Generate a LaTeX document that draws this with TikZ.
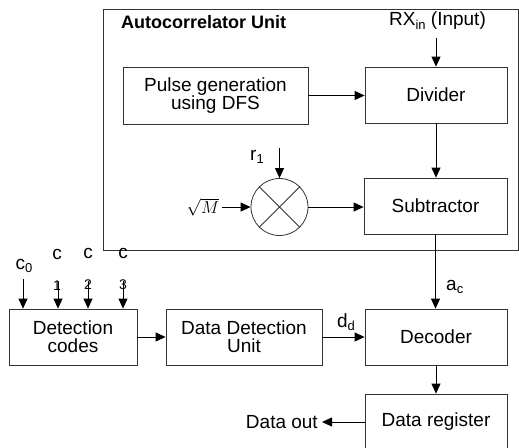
\documentclass[tikz,border=0pt]{standalone}
\usepackage{fontspec}
\setmainfont{Liberation Sans}
\usetikzlibrary{arrows.meta}
\newcommand{\mysub}[1]{\raisebox{-0.35ex}{\fontsize{13}{13}\selectfont #1}}
\begin{document}
\begin{tikzpicture}[x=1pt,y=-1pt,
  box/.style={draw=black!80, line width=0.8pt, rectangle, inner sep=0pt, align=center,
    font=\fontsize{19}{18}\selectfont},
  lbl/.style={inner sep=0pt, font=\fontsize{19}{18}\selectfont},
  dig/.style={inner sep=0pt, font=\fontsize{14}{14}\selectfont},
  arr/.style={-{Triangle[length=10pt,width=9pt]}, line width=0.8pt, draw=black}]
\useasboundingbox (0,0) rectangle (519,447);

% outer unit
\node[draw=black!80, line width=0.8pt, rectangle, inner sep=0pt,
  minimum width=415pt, minimum height=241pt] (outer) at (310.5,129.5) {};
\node[anchor=west, inner sep=0pt, font=\fontsize{18}{18}\selectfont\bfseries] (title) at (121,22) {Autocorrelator Unit};

% blocks
\node[box, minimum width=185pt, minimum height=57pt] (pulse) at (215.5,95.5) {Pulse generation\\using DFS};
\node[box, minimum width=142pt, minimum height=56pt] (div) at (436,95) {Divider};
\node[box, minimum width=143pt, minimum height=56pt] (sub) at (435.5,206) {Subtractor};
\node[draw=black!80, line width=0.8pt, circle, minimum size=57pt, inner sep=0pt] (mul) at (279.5,207) {};
\draw[line width=0.8pt, black!80] (mul.north west) -- (mul.south east) (mul.north east) -- (mul.south west);
\node[box, minimum width=142pt, minimum height=56pt] (dec) at (436,337) {Decoder};
\node[box, minimum width=142pt, minimum height=56pt] (dreg) at (436,422) {Data register};
\node[box, minimum width=128pt, minimum height=56pt] (dcodes) at (73,337) {Detection\\codes};
\node[box, minimum width=156pt, minimum height=56pt] (ddu) at (244,337) {Data Detection\\Unit};

% labels
\node[lbl] (rx) at (437.5,21) {RX\mysub{in} (Input)};
\coordinate (rxend) at (436,38);
\node[lbl] (r1) at (257,157) {r\mysub{1}};
\coordinate (r1end) at (279.5,148);
\node[inner sep=0pt, font=\fontsize{17}{17}\selectfont] (sqm) at (203,207) {$\sqrt{M}$};
\node[lbl, anchor=west] (ac) at (446,287) {a\mysub{c}};
\node[lbl] (dd) at (346,322) {d\mysub{d}};
\node[lbl, anchor=east] (dout) at (318,422) {Data out};

% c inputs
\node[lbl] (c0) at (24,266) {c\mysub{0}};
\node[lbl] (c1) at (57,254) {c};
\node[lbl] (c2) at (88,253) {c};
\node[lbl] (c3) at (123,253) {c};
\node[dig] (n1) at (57,286) {1};
\node[dig] (n2) at (88,285) {2};
\node[dig] (n3) at (123,285) {3};
\coordinate (c0s) at (23,279);
\coordinate (c1s) at (58,281);
\coordinate (c2s) at (88,281);
\coordinate (c3s) at (123,281);

% connectors
\draw[arr] (rxend) -- (div.north);
\draw[arr] (pulse.east) -- (pulse.east -| div.west);
\draw[arr] (div.south) -- (div.south |- sub.north);
\draw[arr] (r1end) -- (mul.north);
\draw[arr] (sqm.east) ++(3,0) -- (mul.west);
\draw[arr] (mul.east) -- (mul.east -| sub.west);
\draw[arr] (sub.south) -- (sub.south |- dec.north);
\draw[arr] (dec.south) -- (dec.south |- dreg.north);
\draw[arr] (dreg.west) -- ([xshift=4pt]dout.east);
\draw[arr] (dcodes.east) -- (ddu.west);
\draw[arr] (ddu.east) -- (dec.west);
\draw[arr] (c0s) -- (c0s |- dcodes.north);
\draw[arr] (c1s) -- (c1s |- dcodes.north);
\draw[arr] (c2s) -- (c2s |- dcodes.north);
\draw[arr] (c3s) -- (c3s |- dcodes.north);
\end{tikzpicture}
\end{document}
